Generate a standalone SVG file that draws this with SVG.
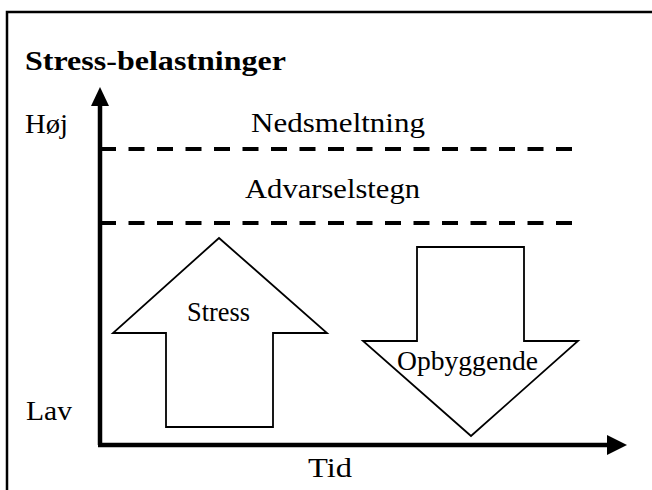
<svg xmlns="http://www.w3.org/2000/svg" width="652" height="490" viewBox="0 0 652 490">
<defs>
<style>
.t{font-family:"Liberation Serif","Times New Roman",serif;font-size:28px;fill:#000}
.b{font-weight:bold;font-size:28px}
.shape{fill:#fff;stroke:#000;stroke-width:1.8;stroke-linejoin:miter}
.axis{stroke:#000;stroke-width:4.5;fill:none}
.dash{stroke:#000;stroke-width:4;stroke-dasharray:16 12.5;fill:none}
</style>
</defs>
<rect width="652" height="490" fill="#fff"/>
<rect x="7" y="12" width="660" height="500" fill="none" stroke="#000" stroke-width="2.5"/>
<text class="t b" x="25" y="70" textLength="261" lengthAdjust="spacingAndGlyphs">Stress-belastninger</text>
<g id="labels">
<text class="t" x="25" y="133" textLength="43" lengthAdjust="spacingAndGlyphs">Høj</text>
<text class="t" x="26" y="420" textLength="46" lengthAdjust="spacingAndGlyphs">Lav</text>
<text class="t" x="308" y="477" textLength="44" lengthAdjust="spacingAndGlyphs">Tid</text>
</g>
<g id="level-nedsmeltning">
<text class="t" x="251" y="132" textLength="174" lengthAdjust="spacingAndGlyphs">Nedsmeltning</text>
</g>
<g id="level-advarselstegn">
<text class="t" x="245" y="198" textLength="175" lengthAdjust="spacingAndGlyphs">Advarselstegn</text>
</g>
<g id="stress">
<polygon class="shape" points="219,238 327,333 273,333 273,427 166,427 166,333 113,333"/>
<text class="t" x="187" y="321" textLength="63" lengthAdjust="spacingAndGlyphs">Stress</text>
</g>
<g id="opbyggende">
<polygon class="shape" points="417,247 524,247 524,341 578,341 471,436 363,341 417,341"/>
<text class="t" x="397" y="370" textLength="141" lengthAdjust="spacingAndGlyphs">Opbyggende</text>
</g>
<g id="connectors">
<path class="dash" d="M100,149 H572"/>
<path class="dash" d="M100,223 H572"/>
<path class="axis" d="M100,445 V105"/>
<path d="M91,106 L100,87 L109,106 Z" fill="#000"/>
<path class="axis" d="M98,445 H609"/>
<path d="M607,435 L627,445 L607,455 Z" fill="#000"/>
</g>
</svg>
